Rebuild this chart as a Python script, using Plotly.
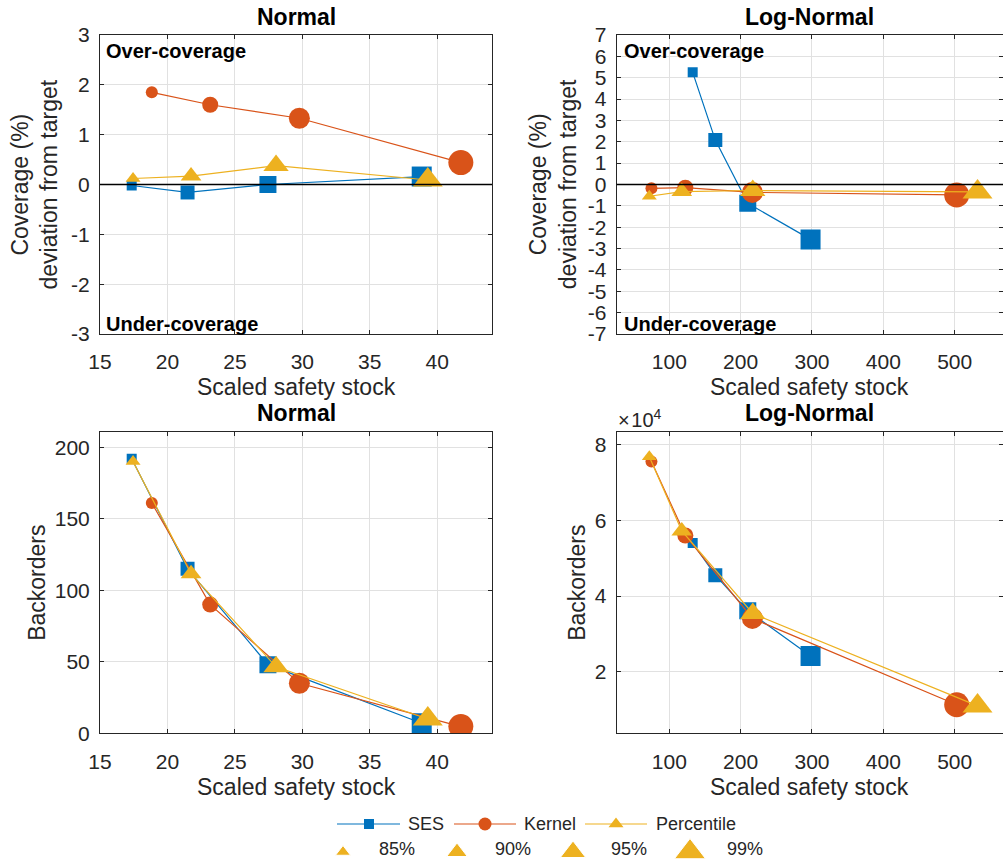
import plotly.graph_objects as go

# ---------------- data ----------------
levels = ["85%", "90%", "95%", "99%"]
methods = ["SES", "Kernel", "Percentile"]

# Normal distribution
n_ses_ss = [17.35, 21.49, 27.45, 38.85]
n_ses_cov = [-0.02, -0.16, 0.0, 0.16]
n_ses_bo = [192, 115, 48, 7]

n_ker_ss = [18.84, 23.17, 29.78, 41.75]
n_ker_cov = [1.85, 1.60, 1.33, 0.44]
n_ker_bo = [161, 90, 35, 4.7]

n_pct_ss = [17.45, 21.75, 28.05, 39.3]
n_pct_cov = [0.12, 0.17, 0.38, 0.09]
n_pct_bo = [190, 111.5, 46.5, 10]

# Log-Normal distribution
l_ses_ss = [132.8, 164.5, 210, 298]
l_ses_cov = [5.25, 2.08, -0.88, -2.57]
l_ses_bo = [54000, 45500, 36100, 24200]

l_ker_ss = [75, 122.5, 216.5, 502.8]
l_ker_cov = [-0.18, -0.15, -0.37, -0.49]
l_ker_bo = [75500, 56000, 34100, 11300]

l_pct_ss = [72, 117.5, 217, 532]
l_pct_cov = [-0.55, -0.33, -0.28, -0.35]
l_pct_bo = [76800, 57200, 35400, 11000]

# tick labels
n_x_ticks = [15, 20, 25, 30, 35, 40]
l_x_ticks = [100, 200, 300, 400, 500]
n_cov_ticks = [-3, -2, -1, 0, 1, 2, 3]
l_cov_ticks = list(range(-7, 8))
n_bo_ticks = [0, 50, 100, 150, 200]
l_bo_ticks = [20000, 40000, 60000, 80000]
l_bo_ticktext = ["2", "4", "6", "8"]

# ---------------- styles ----------------
W, H = 1003, 861
FONT = "Liberation Sans, Arial, Helvetica, sans-serif"
TXT = "#262626"
COLORS = {"SES": "#0072BD", "Kernel": "#D95319", "Percentile": "#EDB120"}
SYMBOLS = {"SES": "square", "Kernel": "circle", "Percentile": "triangle-up"}
SIZES = {"SES": [10, 14, 17, 20], "Kernel": [12, 16, 21, 25], "Percentile": [13, 18, 22, 26]}


def px(x):
    return x / W


def py(y):
    return 1 - y / H


def hy(v):
    # MATLAB-style hyphen minus
    return str(v).replace("\u2212", "-")


fig = go.Figure()

panels = [
    ("x", "y", [(n_ses_ss, n_ses_cov), (n_ker_ss, n_ker_cov), (n_pct_ss, n_pct_cov)]),
    ("x2", "y2", [(l_ses_ss, l_ses_cov), (l_ker_ss, l_ker_cov), (l_pct_ss, l_pct_cov)]),
    ("x3", "y3", [(n_ses_ss, n_ses_bo), (n_ker_ss, n_ker_bo), (n_pct_ss, n_pct_bo)]),
    ("x4", "y4", [(l_ses_ss, l_ses_bo), (l_ker_ss, l_ker_bo), (l_pct_ss, l_pct_bo)]),
]

for xa, ya, series in panels:
    for m, (xs, ys) in zip(methods, series):
        fig.add_trace(go.Scatter(
            x=xs, y=ys, xaxis=xa, yaxis=ya, mode="lines+markers", name=m,
            line=dict(color=COLORS[m], width=1.2),
            marker=dict(symbol=SYMBOLS[m], size=SIZES[m], color=COLORS[m], opacity=1, line=dict(width=0)),
            showlegend=False, hoverinfo="skip",
        ))

# ---------------- custom legend (own axis, pixel coordinates) ----------------
row1_y, row2_y = 824, 849
leg_items = [("SES", 337, 400, 369, 406), ("Kernel", 454, 516, 485, 522), ("Percentile", 585, 647, 616, 654)]
leg_msize = {"SES": 10, "Kernel": 13, "Percentile": 13}
for m, xl, xr, xm, xt in leg_items:
    fig.add_trace(go.Scatter(x=[xl, xr], y=[row1_y, row1_y], xaxis="x5", yaxis="y5", mode="lines",
                             line=dict(color=COLORS[m], width=1.2), showlegend=False, hoverinfo="skip"))
    fig.add_trace(go.Scatter(x=[xm], y=[row1_y], xaxis="x5", yaxis="y5", mode="markers",
                             marker=dict(symbol=SYMBOLS[m], size=leg_msize[m], color=COLORS[m], opacity=1),
                             showlegend=False, hoverinfo="skip"))
    fig.add_annotation(x=xt, y=row1_y, xref="x5", yref="y5", text=m, showarrow=False,
                       xanchor="left", yanchor="middle", font=dict(family=FONT, size=18, color=TXT))

lev_x = [343, 457, 573, 690]
lev_tx = [377, 493, 609, 725]
lev_sizes = [13, 18, 22, 27]
fig.add_trace(go.Scatter(x=lev_x, y=[row2_y + 3] * 4, xaxis="x5", yaxis="y5", mode="markers",
                         marker=dict(symbol="triangle-up", size=lev_sizes, color=COLORS["Percentile"], opacity=1),
                         showlegend=False, hoverinfo="skip"))
for lab, xt in zip(levels, lev_tx):
    fig.add_annotation(x=xt, y=row2_y, xref="x5", yref="y5", text=lab, showarrow=False,
                       xanchor="left", yanchor="middle", font=dict(family=FONT, size=18, color=TXT))

# ---------------- axes ----------------
common = dict(showline=True, linecolor=TXT, linewidth=1, mirror="ticks", ticks="inside", ticklen=4,
              tickcolor=TXT, showgrid=True, gridcolor="#e1e1e1", gridwidth=1, zeroline=False,
              automargin=False, tickfont=dict(family=FONT, size=21, color=TXT))
xcommon = dict(common, ticklabelstandoff=9)
ycommon = dict(common, ticklabelstandoff=5)

L1, R1 = 100, 492
L2, R2 = 616.7, 1003
T1, B1 = 35, 334
T2, B2 = 432.3, 733.3

fig.update_layout(
    xaxis=dict(domain=[px(L1), px(R1)], range=[15, 44.06], tickvals=n_x_ticks, anchor="y", **xcommon),
    yaxis=dict(domain=[py(B1), py(T1)], range=[-3, 3], tickvals=n_cov_ticks,
               ticktext=[hy(v) for v in n_cov_ticks], anchor="x", **ycommon),
    xaxis2=dict(domain=[px(L2), px(R2)], range=[26.3, 567.7], tickvals=l_x_ticks, anchor="y2", **xcommon),
    yaxis2=dict(domain=[py(B1), py(T1)], range=[-7, 7], tickvals=l_cov_ticks,
                ticktext=[hy(v) for v in l_cov_ticks], anchor="x2", **ycommon),
    xaxis3=dict(domain=[px(L1), px(R1)], range=[15, 44.06], tickvals=n_x_ticks, anchor="y3", **xcommon),
    yaxis3=dict(domain=[py(B2), py(T2)], range=[0, 210.5], tickvals=n_bo_ticks, anchor="x3", **ycommon),
    xaxis4=dict(domain=[px(L2), px(R2)], range=[26.3, 567.7], tickvals=l_x_ticks, anchor="y4", **xcommon),
    yaxis4=dict(domain=[py(B2), py(T2)], range=[3770, 83240], tickvals=l_bo_ticks,
                ticktext=l_bo_ticktext, anchor="x4", **ycommon),
    xaxis5=dict(domain=[0, 1], range=[0, W], visible=False, fixedrange=True, anchor="y5", automargin=False),
    yaxis5=dict(domain=[0, py(800)], range=[861, 800], visible=False, fixedrange=True, anchor="x5",
                automargin=False),
    width=W, height=H, autosize=False,
    margin=dict(l=0, r=0, t=0, b=0, pad=0, autoexpand=False),
    paper_bgcolor="white", plot_bgcolor="white",
    font=dict(family=FONT, color=TXT),
)

# zero reference lines
for xa, ya in [("x", "y"), ("x2", "y2")]:
    fig.add_shape(type="line", xref=f"{xa} domain", yref=ya, x0=0, x1=1, y0=0, y1=0,
                  line=dict(color="black", width=1.5), layer="above")

# titles
for cx, cy, t in [((L1 + R1) / 2, 17, "Normal"), ((L2 + R2) / 2, 17, "Log-Normal"),
                  ((L1 + R1) / 2, 413, "Normal"), ((L2 + R2) / 2, 413, "Log-Normal")]:
    fig.add_annotation(x=px(cx), y=py(cy), xref="paper", yref="paper", text=f"<b>{t}</b>", showarrow=False,
                       xanchor="center", yanchor="middle", font=dict(family=FONT, size=23, color="black"))

# x-axis titles
for cx, cy in [((L1 + R1) / 2, 387), ((L2 + R2) / 2, 387), ((L1 + R1) / 2, 787), ((L2 + R2) / 2, 787)]:
    fig.add_annotation(x=px(cx), y=py(cy), xref="paper", yref="paper", text="Scaled safety stock",
                       showarrow=False, xanchor="center", yanchor="middle",
                       font=dict(family=FONT, size=23, color=TXT))

# y-axis titles
for cx in [L1 - 66, L2 - 64]:
    fig.add_annotation(x=px(cx), y=py((T1 + B1) / 2), xref="paper", yref="paper",
                       text="Coverage (%)<br>deviation from target", textangle=-90, showarrow=False,
                       xanchor="center", yanchor="middle", font=dict(family=FONT, size=23, color=TXT))
for cx in [37, 577]:
    fig.add_annotation(x=px(cx), y=py((T2 + B2) / 2), xref="paper", yref="paper", text="Backorders",
                       textangle=-90, showarrow=False, xanchor="center", yanchor="middle",
                       font=dict(family=FONT, size=23, color=TXT))

# coverage annotations
for lx in [104, 622]:
    fig.add_annotation(x=px(lx), y=py(51), xref="paper", yref="paper", text="<b>Over-coverage</b>",
                       showarrow=False, xanchor="left", yanchor="middle",
                       font=dict(family=FONT, size=20, color="black"))
    fig.add_annotation(x=px(lx), y=py(324), xref="paper", yref="paper", text="<b>Under-coverage</b>",
                       showarrow=False, xanchor="left", yanchor="middle",
                       font=dict(family=FONT, size=20, color="black"))

# exponent label
fig.add_annotation(x=px(616), y=py(418), xref="paper", yref="paper", text="×\u200a10<sup>4</sup>",
                   showarrow=False, xanchor="left", yanchor="middle",
                   font=dict(family=FONT, size=20, color=TXT))

fig.write_html("out.html")
